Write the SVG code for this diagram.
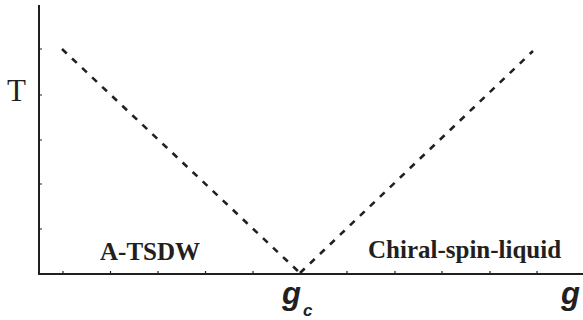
<svg xmlns="http://www.w3.org/2000/svg" width="583" height="320" viewBox="0 0 583 320">
<style>
.axis{stroke:#231f20;stroke-width:2;fill:none}
.tick{stroke:#231f20;stroke-width:1.2}
.dash{stroke:#231f20;stroke-width:2.6;fill:none;stroke-dasharray:6.5 7.3}
.lbl{font-family:"Liberation Serif",serif;fill:#231f20}
.sym{font-family:"Liberation Sans",Arial,sans-serif;font-weight:bold;font-style:italic;fill:#231f20}
</style>
<rect width="583" height="320" fill="#fff"/>
<g id="axes">
<path class="axis" d="M39,5 V274 H583"/>
<path class="tick" d="M39,49 h3 M39,95 h3 M39,140 h3 M39,184 h3 M39,229 h3"/>
<path class="tick" d="M63,274 v-3 M110.5,274 v-3 M158,274 v-3 M205.5,274 v-3 M253,274 v-3 M347,274 v-3 M395,274 v-3 M442,274 v-3 M490,274 v-3 M537,274 v-3"/>
</g>
<g id="connectors">
<path class="dash" d="M62,49 L300,273"/>
<path class="dash" d="M300,273 L533,51"/>
</g>
<g id="label-T"><text class="lbl" x="7" y="101" font-size="31">T</text></g>
<g id="region-atsdw"><text class="lbl" x="100" y="260" font-size="25" font-weight="bold">A-TSDW</text></g>
<g id="region-csl"><text class="lbl" x="368" y="258" font-size="25" font-weight="bold">Chiral-spin-liquid</text></g>
<g id="label-gc"><text class="sym" x="282" y="304" font-size="31">g</text><text class="sym" x="303" y="316" font-size="17">c</text></g>
<g id="label-g"><text class="sym" x="561" y="304" font-size="31">g</text></g>
</svg>
